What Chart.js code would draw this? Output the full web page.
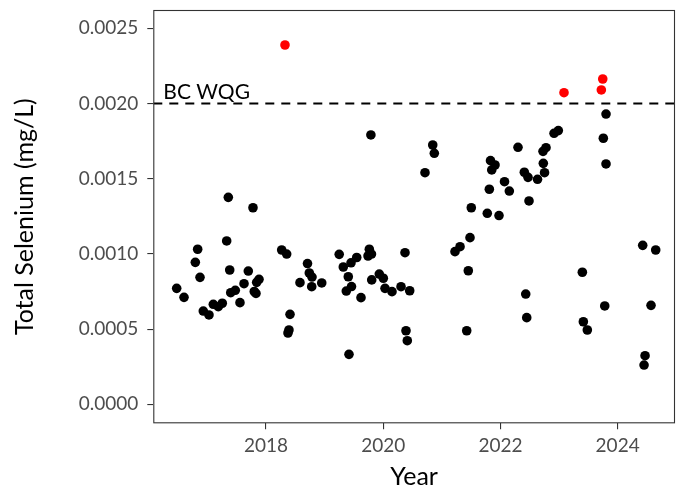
<!DOCTYPE html>
<html>
<head>
<meta charset="utf-8">
<script src="https://cdn.jsdelivr.net/npm/chart.js@4/dist/chart.umd.min.js"></script>
<style>
  html, body { margin: 0; padding: 0; background: #ffffff; }
  #wrap { width: 676px; height: 490px; }
</style>
</head>
<body>
<div id="wrap"><canvas id="chart" width="676" height="490"></canvas></div>
<script>
// Sampling dates (decimal years) and total selenium concentrations (mg/L)
const sampleYears = [
  2016.476, 2016.601, 2016.794, 2016.834, 2016.874, 2016.930, 2017.027, 2017.101,
  2017.186, 2017.254, 2017.329, 2017.357, 2017.381, 2017.398, 2017.476, 2017.556,
  2017.625, 2017.698, 2017.778, 2017.800, 2017.829, 2017.841, 2017.881,
  2018.324, 2018.268, 2018.353, 2018.410, 2018.392, 2018.375, 2018.580, 2018.708,
  2018.739, 2018.785, 2018.780, 2018.951,
  2019.249, 2019.319, 2019.404, 2019.451, 2019.370, 2019.459, 2019.416, 2019.548,
  2019.621, 2019.763, 2019.741, 2019.800, 2019.790, 2019.804, 2019.933,
  2020.002, 2020.031, 2020.150, 2020.304, 2020.452, 2020.372, 2020.389, 2020.411,
  2020.713, 2020.845, 2020.872,
  2021.225, 2021.311, 2021.425, 2021.452, 2021.481, 2021.503, 2021.776, 2021.811,
  2021.831, 2021.908, 2021.852, 2021.976,
  2022.070, 2022.152, 2022.300, 2022.408, 2022.471, 2022.488, 2022.432, 2022.449,
  2022.633, 2022.753, 2022.732, 2022.727, 2022.778, 2022.915, 2022.988,
  2023.085, 2023.398, 2023.415, 2023.483, 2023.746, 2023.722, 2023.802, 2023.756,
  2023.802, 2023.780,
  2024.428, 2024.650, 2024.570, 2024.468, 2024.451
];
const seleniumValues = [
  0.000771, 0.000711, 0.000944, 0.001031, 0.000844, 0.000620, 0.000594, 0.000665,
  0.000649, 0.000672, 0.001086, 0.001376, 0.000893, 0.000742, 0.000758, 0.000676,
  0.000802, 0.000886, 0.001307, 0.000750, 0.000737, 0.000811, 0.000831,
  0.002389, 0.001026, 0.000999, 0.000598, 0.000494, 0.000474, 0.000809, 0.000936,
  0.000873, 0.000846, 0.000782, 0.000807,
  0.000997, 0.000913, 0.000848, 0.000941, 0.000753, 0.000783, 0.000332, 0.000976,
  0.000709, 0.001031, 0.000986, 0.000999, 0.001791, 0.000827, 0.000866,
  0.000838, 0.000771, 0.000749, 0.000782, 0.000755, 0.001008, 0.000489, 0.000423,
  0.001540, 0.001724, 0.001669,
  0.001015, 0.001048, 0.000489, 0.000888, 0.001108, 0.001307, 0.001270, 0.001430,
  0.001620, 0.001591, 0.001558, 0.001255,
  0.001480, 0.001418, 0.001709, 0.001543, 0.001509, 0.001352, 0.000733, 0.000576,
  0.001496, 0.001540, 0.001602, 0.001682, 0.001706, 0.001802, 0.001820,
  0.002072, 0.000878, 0.000549, 0.000494, 0.002163, 0.002090, 0.001930, 0.001769,
  0.001598, 0.000654,
  0.001057, 0.001026, 0.000658, 0.000323, 0.000261
];

// Axis ticks
const yearTicks = [2018, 2020, 2022, 2024];
const seleniumTicks = [0, 0.0005, 0.0010, 0.0015, 0.0020, 0.0025];

// BC water quality guideline
const guidelineValue = 0.002;
const guidelineLabel = 'BC WQG';

const xRange = [2016.077, 2024.979];
const yRange = [-0.0001263, 0.0026217];

const FONT = 'Lato';
const AXIS_GREY = '#333333';

const points = sampleYears.map((yr, i) => ({ x: yr, y: seleniumValues[i] }));

// Keep the panel edges where the layout puts them (no extra room for edge labels)
function fixScale(size, prop) {
  return s => {
    s[prop] = size;
    s.paddingTop = 0; s.paddingBottom = 0; s.paddingLeft = 0; s.paddingRight = 0;
  };
}

// Panel border and guideline caption
const panelPlugin = {
  id: 'panel',
  afterDraw(chart) {
    const { ctx, chartArea: a, scales } = chart;
    ctx.save();
    ctx.strokeStyle = AXIS_GREY;
    ctx.lineWidth = 1.1;
    ctx.strokeRect(a.left + 0.5, a.top + 0.5, a.right - a.left - 1, a.bottom - a.top - 1);
    const yPix = scales.y.getPixelForValue(guidelineValue);
    ctx.fillStyle = '#000000';
    ctx.font = '21px ' + FONT;
    ctx.textAlign = 'left';
    ctx.textBaseline = 'alphabetic';
    ctx.fillText(guidelineLabel, a.left + 10, yPix - 5);
    ctx.restore();
  }
};

new Chart(document.getElementById('chart'), {
  type: 'scatter',
  data: {
    datasets: [
      {
        label: 'Guideline',
        type: 'line',
        data: [{ x: xRange[0], y: guidelineValue }, { x: xRange[1], y: guidelineValue }],
        borderColor: '#000000',
        borderWidth: 2,
        borderDash: [9, 7],
        pointRadius: 0,
        fill: false,
        order: 2
      },
      {
        label: 'Total Selenium',
        data: points,
        pointRadius: 4.8,
        pointHoverRadius: 4.8,
        borderWidth: 0,
        pointBackgroundColor: ctx => (ctx.raw && ctx.raw.y > guidelineValue ? '#ff0000' : '#000000'),
        pointBorderColor: ctx => (ctx.raw && ctx.raw.y > guidelineValue ? '#ff0000' : '#000000'),
        order: 1
      }
    ]
  },
  options: {
    responsive: false,
    devicePixelRatio: 1,
    animation: false,
    layout: { autoPadding: false, padding: { left: 0, top: 10, right: 1, bottom: 0 } },
    plugins: { legend: { display: false }, tooltip: { enabled: false } },
    scales: {
      x: {
        type: 'linear',
        min: xRange[0],
        max: xRange[1],
        afterBuildTicks: s => { s.ticks = yearTicks.map(v => ({ value: v })); },
        afterFit: fixScale(66.7, 'height'),
        grid: { drawOnChartArea: false, drawTicks: true, tickLength: 6, color: AXIS_GREY, lineWidth: 1.1 },
        border: { display: false },
        ticks: {
          color: '#4d4d4d',
          font: { family: FONT, size: 19 },
          padding: 5,
          maxRotation: 0,
          callback: v => String(v)
        },
        title: {
          display: true,
          text: 'Year',
          color: '#000000',
          font: { family: FONT, size: 25, lineHeight: 1 },
          padding: { top: 0, bottom: 1 }
        }
      },
      y: {
        type: 'linear',
        min: yRange[0],
        max: yRange[1],
        afterBuildTicks: s => { s.ticks = seleniumTicks.map(v => ({ value: v })); },
        afterFit: fixScale(153.3, 'width'),
        grid: { drawOnChartArea: false, drawTicks: true, tickLength: 6, color: AXIS_GREY, lineWidth: 1.1 },
        border: { display: false },
        ticks: {
          color: '#4d4d4d',
          font: { family: FONT, size: 19 },
          padding: 9,
          callback: v => v.toFixed(4)
        },
        title: {
          display: true,
          text: 'Total Selenium (mg/L)',
          color: '#000000',
          font: { family: FONT, size: 25, lineHeight: 1 },
          padding: { top: 12, bottom: 0 }
        }
      }
    }
  },
  plugins: [panelPlugin]
});
</script>
</body>
</html>
